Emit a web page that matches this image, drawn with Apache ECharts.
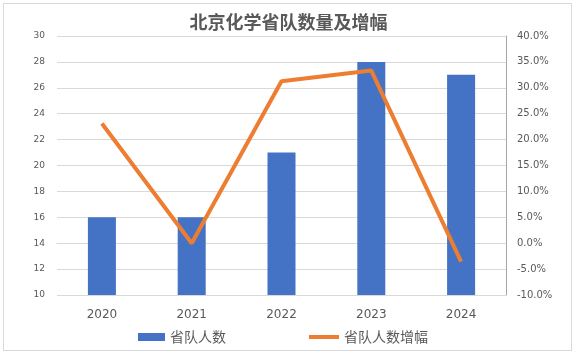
<!DOCTYPE html>
<html><head><meta charset="utf-8">
<script src="https://cdn.jsdelivr.net/npm/echarts@6/dist/echarts.min.js"></script>
<style>
html,body{margin:0;padding:0;background:#fff;}
#frame{position:absolute;left:3px;top:3px;width:567px;height:346px;border:1px solid #d9d9d9;}
#c{position:absolute;left:0;top:0;width:577px;height:358px;}
</style></head>
<body>
<div id="frame"></div>
<div id="c"></div>
<script>
const years = ['2020','2021','2022','2023','2024'];
const teamCount = [16, 16, 21, 28, 27];
const growth = [0.231, 0.0, 0.3125, 0.3333, -0.0357];
const seriesNames = ['省队人数', '省队人数增幅'];
const titleText = '北京化学省队数量及增幅';

const legendText = {fontFamily: 'Noto Sans CJK SC', fontSize: 14, color: '#595959'};
const chart = echarts.init(document.getElementById('c'));
chart.setOption({
  animation: false,
  backgroundColor: 'transparent',
  title: {
    text: titleText, left: 'center', top: 8,
    textStyle: {fontFamily: 'Noto Sans CJK SC', fontSize: 18, fontWeight: 'bold', color: '#595959'}
  },
  grid: {left: 57, right: 71, top: 36, bottom: 63},
  legend: [{
    data: [{name: seriesNames[0], icon: 'rect'}],
    top: 325, left: 133, itemWidth: 27, itemHeight: 8, itemGap: 0,
    textStyle: legendText
  }, {
    data: [{name: seriesNames[1], icon: 'rect'}],
    top: 325, left: 304, itemWidth: 30, itemHeight: 4, itemGap: 0,
    textStyle: legendText
  }],
  xAxis: {
    type: 'category', data: years,
    axisLine: {lineStyle: {color: '#d9d9d9'}},
    axisTick: {show: false},
    axisLabel: {fontFamily: 'DejaVu Sans', fontSize: 12, color: '#595959', margin: 14}
  },
  yAxis: [{
    type: 'value', min: 10, max: 30, interval: 2,
    axisLine: {show: false}, axisTick: {show: false},
    splitLine: {lineStyle: {color: '#d9d9d9'}},
    axisLabel: {fontFamily: 'DejaVu Sans', fontSize: 9, color: '#595959', margin: 12}
  }, {
    type: 'value', min: -0.1, max: 0.4, interval: 0.05, position: 'right',
    axisLine: {show: true, lineStyle: {color: '#a6a6a6'}}, axisTick: {show: false},
    splitLine: {show: false},
    axisLabel: {fontFamily: 'DejaVu Sans', fontSize: 10, color: '#595959', margin: 11,
      formatter: v => (v * 100).toFixed(1) + '%'}
  }],
  series: [{
    name: seriesNames[0], type: 'bar', data: teamCount, barWidth: 28,
    itemStyle: {color: '#4472C4'}
  }, {
    name: seriesNames[1], type: 'line', yAxisIndex: 1, data: growth,
    symbol: 'none', lineStyle: {color: '#ED7D31', width: 4}, itemStyle: {color: '#ED7D31'}
  }]
});
</script>
</body></html>
